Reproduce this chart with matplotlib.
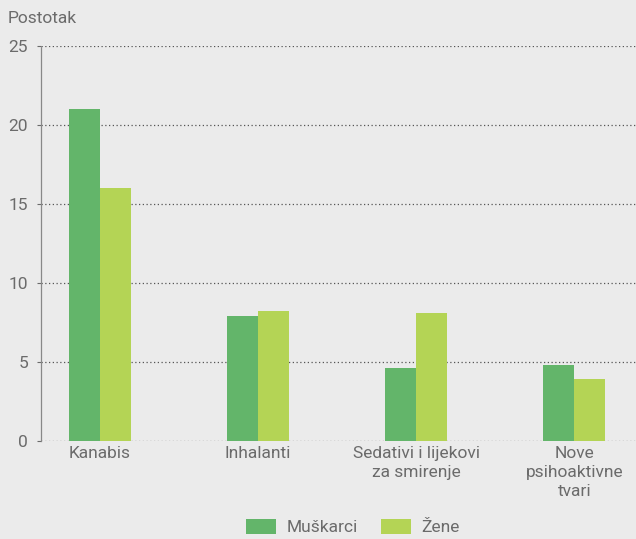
import numpy as np
import matplotlib.pyplot as plt

categories = ['Kanabis', 'Inhalanti', 'Sedativi i lijekovi\nza smirenje', 'Nove\npsihoaktivne\ntvari']
muskarci = [21.0, 7.9, 4.6, 4.8]
zene = [16.0, 8.2, 8.1, 3.9]
series_names = ['Muškarci', 'Žene']
yticks = [0, 5, 10, 15, 20, 25]

bg = '#ebebeb'
txt = '#6b6b6b'
plt.rcParams['font.family'] = ['Roboto', 'DejaVu Sans']
fs = 12.5

fig = plt.figure(figsize=(6.36, 5.39), dpi=100, facecolor=bg)
ax = fig.add_axes([0.0645, 0.182, 0.9355, 0.733], facecolor=bg)

x = np.arange(len(categories))
w = 0.196
ax.bar(x - w/2, muskarci, w, color='#63b56a', label=series_names[0], zorder=3)
ax.bar(x + w/2, zene, w, color='#b4d455', label=series_names[1], zorder=3)

ax.set_xlim(-0.373, 3.39)
ax.set_ylim(0, 25)
ax.set_yticks(yticks)
ax.set_xticks(x)
ax.set_xticklabels(categories, fontsize=fs, color=txt, linespacing=1.3)
ax.tick_params(axis='y', labelsize=fs, colors=txt, length=3, width=0.8, pad=6.4)
ax.tick_params(axis='x', length=0, pad=4)
ax.yaxis.grid(True, linestyle=(0, (1, 2)), color='#555555', linewidth=0.9, zorder=0)

for s in ['top', 'right', 'bottom']:
    ax.spines[s].set_visible(False)
ax.spines['left'].set_linestyle((0, (1, 1)))
ax.spines['left'].set_color('#888888')
ax.spines['left'].set_linewidth(0.9)

fig.text(0.012, 0.966, 'Postotak', fontsize=fs, color=txt, va='center')

leg = fig.legend(loc='lower center', bbox_to_anchor=(0.555, -0.022), ncol=2, frameon=False,
                 fontsize=fs, handlelength=1.75, handleheight=0.95, columnspacing=1.3,
                 handletextpad=0.6)
for t in leg.get_texts():
    t.set_color(txt)

fig.savefig('out.png', dpi=100, facecolor=bg)
